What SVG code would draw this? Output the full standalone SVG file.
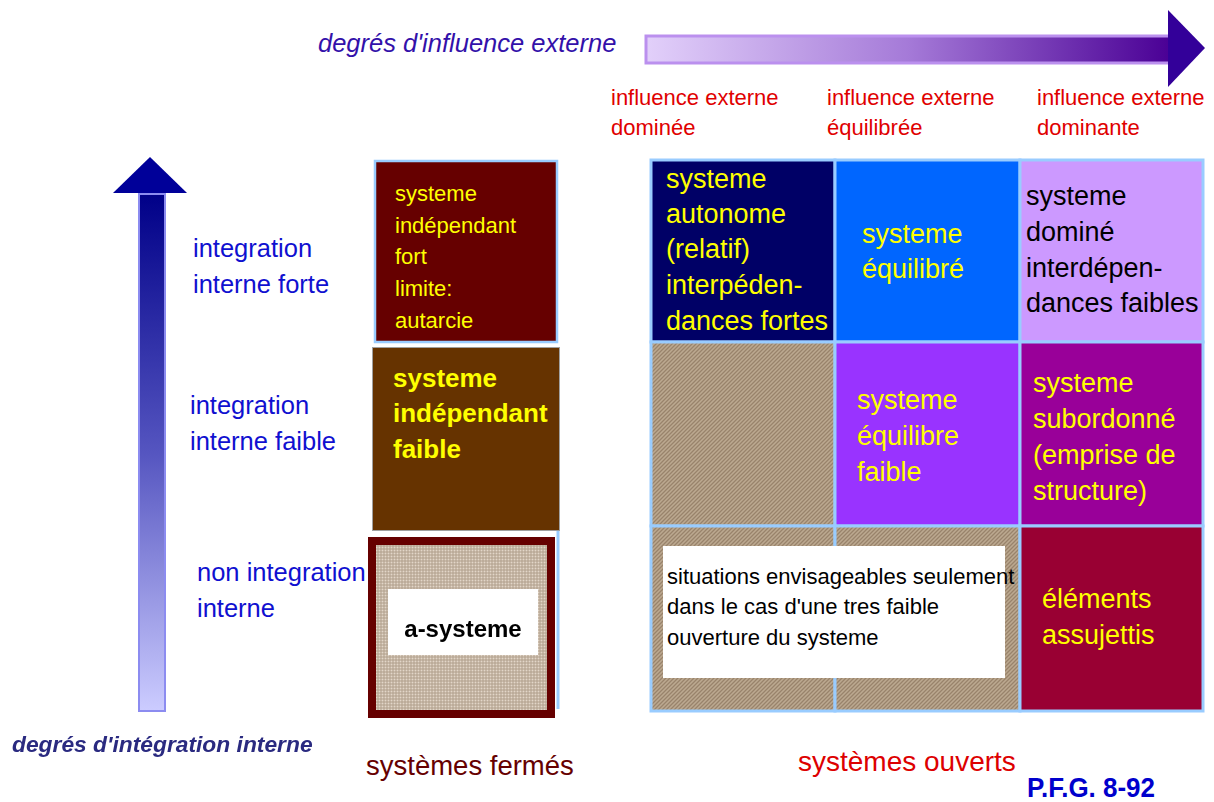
<svg xmlns="http://www.w3.org/2000/svg" width="1214" height="802" viewBox="0 0 1214 802">
<style>
text{font-family:"Liberation Sans",Arial,sans-serif}
.red{fill:#E00000;font-size:22px}
.blue{fill:#1010D0;font-size:25.5px}
.yel{fill:#FFFF00;font-size:27px}
.blk{fill:#000000;font-size:27px}
.cell{stroke:#99CCFF;stroke-width:3}
</style>
<defs>
<linearGradient id="gTop" x1="0" y1="0" x2="1" y2="0">
<stop offset="0" stop-color="#E2D0FA"/>
<stop offset="0.5" stop-color="#A57AD8"/>
<stop offset="1" stop-color="#4A0095"/>
</linearGradient>
<linearGradient id="gLeft" x1="0" y1="0" x2="0" y2="1">
<stop offset="0" stop-color="#000088"/>
<stop offset="0.5" stop-color="#5555C0"/>
<stop offset="1" stop-color="#CCCCFF"/>
</linearGradient>
<pattern id="hatch" width="4" height="4" patternUnits="userSpaceOnUse">
<rect width="4" height="4" fill="#AD987F"/>
<path d="M-1,1 L1,-1 M0,4 L4,0 M3,5 L5,3" stroke="#98836C" stroke-width="1"/>
<path d="M-1,3 L3,-1 M1,5 L5,1" stroke="#C2B09A" stroke-width="0.7"/>
</pattern>
<pattern id="grid" width="3" height="3" patternUnits="userSpaceOnUse">
<rect width="3" height="3" fill="#B09E8A"/>
<rect x="0.5" y="0.5" width="2" height="2" fill="#E2D6C9"/>
</pattern>
<filter id="soft"><feGaussianBlur stdDeviation="0.45"/></filter>
</defs>

<g id="axis-external">
<rect x="646" y="36" width="524" height="27" fill="url(#gTop)" stroke="#BB90EE" stroke-width="3"/>
<polygon points="1168,10 1205,48 1168,87" fill="#330099"/>
<text x="318" y="52" style="font-style:italic;font-size:25.5px;fill:#3311AA">degrés d'influence externe</text>
</g>

<g id="labels-external">
<text class="red" x="611" y="105">influence externe</text>
<text class="red" x="611" y="135">dominée</text>
<text class="red" x="827" y="105">influence externe</text>
<text class="red" x="827" y="135">équilibrée</text>
<text class="red" x="1037" y="105">influence externe</text>
<text class="red" x="1037" y="135">dominante</text>
</g>

<g id="axis-internal">
<rect x="139" y="194" width="26" height="517" fill="url(#gLeft)" stroke="#8C8CF0" stroke-width="2"/>
<polygon points="113,193 150,157 187,193" fill="#000099"/>
<text x="12" y="752" filter="url(#soft)" style="font-style:italic;font-weight:bold;font-size:22.8px;fill:#2A2A80">degrés d'intégration interne</text>
</g>

<g id="labels-internal">
<text class="blue" x="193" y="257">integration</text>
<text class="blue" x="193" y="293">interne forte</text>
<text class="blue" x="190" y="414">integration</text>
<text class="blue" x="190" y="450">interne faible</text>
<text class="blue" x="197" y="581">non integration</text>
<text class="blue" x="197" y="617">interne</text>
</g>

<g id="closed-strong">
<rect x="375" y="161" width="182" height="181" fill="#660000" stroke="#99CCFF" stroke-width="2.5"/>
<g style="fill:#FFFF00;font-size:22px">
<text x="395" y="201">systeme</text>
<text x="395" y="233">indépendant</text>
<text x="395" y="264">fort</text>
<text x="395" y="296">limite:</text>
<text x="395" y="328">autarcie</text>
</g>
</g>

<g id="closed-weak">
<rect x="372.5" y="347.5" width="187" height="183" fill="#663300" stroke="#A0A0A0" stroke-width="1"/>
<g style="fill:#FFFF00;font-size:26px;font-weight:bold">
<text x="393" y="387">systeme</text>
<text x="393" y="422">indépendant</text>
<text x="393" y="458">faible</text>
</g>
</g>

<g id="a-systeme">
<line x1="558" y1="531" x2="558" y2="709" stroke="#99CCFF" stroke-width="3"/>
<rect x="372" y="541" width="179" height="173" fill="url(#grid)" stroke="#660000" stroke-width="8"/>
<rect x="388" y="589" width="150" height="66" fill="#FFFFFF"/>
<text x="463" y="637" text-anchor="middle" filter="url(#soft)" style="font-weight:bold;font-size:24px;fill:#000">a-systeme</text>
</g>

<g id="autonome">
<rect class="cell" x="651" y="160" width="184" height="182" fill="#000066"/>
<text class="yel" x="666" y="188">systeme</text>
<text class="yel" x="666" y="223">autonome</text>
<text class="yel" x="666" y="258">(relatif)</text>
<text class="yel" x="666" y="294">interpéden-</text>
<text class="yel" x="666" y="330">dances fortes</text>
</g>

<g id="equilibre">
<rect class="cell" x="835" y="160" width="185" height="182" fill="#0066FF"/>
<text class="yel" x="862" y="243">systeme</text>
<text class="yel" x="862" y="278">équilibré</text>
</g>

<g id="domine">
<rect class="cell" x="1020" y="160" width="183" height="182" fill="#CC99FF"/>
<text class="blk" x="1026" y="205">systeme</text>
<text class="blk" x="1026" y="241">dominé</text>
<text class="blk" x="1026" y="277">interdépen-</text>
<text class="blk" x="1026" y="312">dances faibles</text>
</g>

<g id="open-empty">
<rect class="cell" x="651" y="342" width="184" height="184" fill="url(#hatch)"/>
</g>

<g id="equilibre-faible">
<rect class="cell" x="835" y="342" width="185" height="184" fill="#9933FF"/>
<text class="yel" x="857" y="409">systeme</text>
<text class="yel" x="857" y="445">équilibre</text>
<text class="yel" x="857" y="481">faible</text>
</g>

<g id="subordonne">
<rect class="cell" x="1020" y="342" width="183" height="184" fill="#990099"/>
<text class="yel" x="1033" y="392">systeme</text>
<text class="yel" x="1033" y="428">subordonné</text>
<text class="yel" x="1033" y="464">(emprise de</text>
<text class="yel" x="1033" y="500">structure)</text>
</g>

<g id="open-bottom">
<rect class="cell" x="651" y="526" width="184" height="185" fill="url(#hatch)"/>
<rect class="cell" x="835" y="526" width="185" height="185" fill="url(#hatch)"/>
</g>

<g id="assujettis">
<rect class="cell" x="1020" y="526" width="183" height="185" fill="#990033"/>
<text class="yel" x="1042" y="608">éléments</text>
<text class="yel" x="1042" y="644">assujettis</text>
</g>

<g id="note">
<rect x="663" y="546" width="342" height="132" fill="#FFFFFF"/>
<g style="fill:#000;font-size:22px">
<text x="667" y="584">situations envisageables seulement</text>
<text x="667" y="614">dans le cas d'une tres faible</text>
<text x="667" y="645">ouverture du systeme</text>
</g>
</g>

<g id="footer">
<text x="366" y="775" style="font-size:27.5px;fill:#660000">systèmes fermés</text>
<text x="798" y="771" style="font-size:28px;fill:#DD0000">systèmes ouverts</text>
<text x="1027" y="797" textLength="128" lengthAdjust="spacingAndGlyphs" style="font-size:27px;font-weight:bold;fill:#0000CC">P.F.G. 8-92</text>
</g>
</svg>
